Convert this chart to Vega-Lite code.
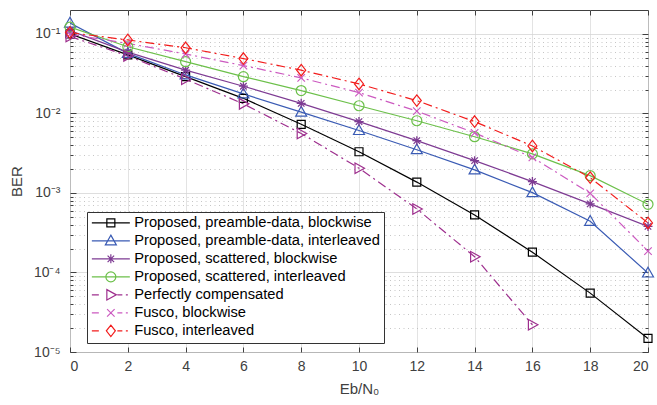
{
  "$schema": "https://vega.github.io/schema/vega-lite/v6.json",
  "width": 578,
  "height": 342,
  "autosize": {"type": "none"},
  "padding": {"left": 70, "top": 10, "right": 9, "bottom": 53},
  "config": {
    "view": {"stroke": "#404040", "strokeWidth": 1},
    "font": "Liberation Sans",
    "axis": {"labelFont": "Liberation Sans", "titleFont": "Liberation Sans", "labelFontSize": 14, "labelColor": "#404040", "titleColor": "#404040", "titleFontWeight": "normal", "tickColor": "#404040", "domain": false},
    "legend": {"labelFont": "Liberation Sans"}
  },
  "data": {"values": [
    {"s": "Proposed, preamble-data, blockwise", "x": 0, "ber": 0.1},
    {"s": "Proposed, preamble-data, blockwise", "x": 2, "ber": 0.0545},
    {"s": "Proposed, preamble-data, blockwise", "x": 4, "ber": 0.029},
    {"s": "Proposed, preamble-data, blockwise", "x": 6, "ber": 0.0155},
    {"s": "Proposed, preamble-data, blockwise", "x": 8, "ber": 0.0073},
    {"s": "Proposed, preamble-data, blockwise", "x": 10, "ber": 0.0033},
    {"s": "Proposed, preamble-data, blockwise", "x": 12, "ber": 0.00137},
    {"s": "Proposed, preamble-data, blockwise", "x": 14, "ber": 0.00053},
    {"s": "Proposed, preamble-data, blockwise", "x": 16, "ber": 0.00018},
    {"s": "Proposed, preamble-data, blockwise", "x": 18, "ber": 0.000055},
    {"s": "Proposed, preamble-data, blockwise", "x": 20, "ber": 0.0000148},
    {"s": "Proposed, preamble-data, interleaved", "x": 0, "ber": 0.137},
    {"s": "Proposed, preamble-data, interleaved", "x": 2, "ber": 0.057},
    {"s": "Proposed, preamble-data, interleaved", "x": 4, "ber": 0.0305},
    {"s": "Proposed, preamble-data, interleaved", "x": 6, "ber": 0.0176},
    {"s": "Proposed, preamble-data, interleaved", "x": 8, "ber": 0.0104},
    {"s": "Proposed, preamble-data, interleaved", "x": 10, "ber": 0.0061},
    {"s": "Proposed, preamble-data, interleaved", "x": 12, "ber": 0.0035},
    {"s": "Proposed, preamble-data, interleaved", "x": 14, "ber": 0.00195},
    {"s": "Proposed, preamble-data, interleaved", "x": 16, "ber": 0.00101},
    {"s": "Proposed, preamble-data, interleaved", "x": 18, "ber": 0.00044},
    {"s": "Proposed, preamble-data, interleaved", "x": 20, "ber": 0.0000985},
    {"s": "Proposed, scattered, blockwise", "x": 0, "ber": 0.11},
    {"s": "Proposed, scattered, blockwise", "x": 2, "ber": 0.059},
    {"s": "Proposed, scattered, blockwise", "x": 4, "ber": 0.035},
    {"s": "Proposed, scattered, blockwise", "x": 6, "ber": 0.022},
    {"s": "Proposed, scattered, blockwise", "x": 8, "ber": 0.0134},
    {"s": "Proposed, scattered, blockwise", "x": 10, "ber": 0.0079},
    {"s": "Proposed, scattered, blockwise", "x": 12, "ber": 0.00455},
    {"s": "Proposed, scattered, blockwise", "x": 14, "ber": 0.00255},
    {"s": "Proposed, scattered, blockwise", "x": 16, "ber": 0.00139},
    {"s": "Proposed, scattered, blockwise", "x": 18, "ber": 0.00073},
    {"s": "Proposed, scattered, blockwise", "x": 20, "ber": 0.00038},
    {"s": "Proposed, scattered, interleaved", "x": 0, "ber": 0.122},
    {"s": "Proposed, scattered, interleaved", "x": 2, "ber": 0.069},
    {"s": "Proposed, scattered, interleaved", "x": 4, "ber": 0.0448},
    {"s": "Proposed, scattered, interleaved", "x": 6, "ber": 0.029},
    {"s": "Proposed, scattered, interleaved", "x": 8, "ber": 0.0194},
    {"s": "Proposed, scattered, interleaved", "x": 10, "ber": 0.0125},
    {"s": "Proposed, scattered, interleaved", "x": 12, "ber": 0.0081},
    {"s": "Proposed, scattered, interleaved", "x": 14, "ber": 0.0051},
    {"s": "Proposed, scattered, interleaved", "x": 16, "ber": 0.0031},
    {"s": "Proposed, scattered, interleaved", "x": 18, "ber": 0.00165},
    {"s": "Proposed, scattered, interleaved", "x": 20, "ber": 0.00072},
    {"s": "Perfectly compensated", "x": 0, "ber": 0.093},
    {"s": "Perfectly compensated", "x": 2, "ber": 0.053},
    {"s": "Perfectly compensated", "x": 4, "ber": 0.027},
    {"s": "Perfectly compensated", "x": 6, "ber": 0.0132},
    {"s": "Perfectly compensated", "x": 8, "ber": 0.0056},
    {"s": "Perfectly compensated", "x": 10, "ber": 0.00205},
    {"s": "Perfectly compensated", "x": 12, "ber": 0.00063},
    {"s": "Perfectly compensated", "x": 14, "ber": 0.000158},
    {"s": "Perfectly compensated", "x": 16, "ber": 0.000022},
    {"s": "Fusco, blockwise", "x": 0, "ber": 0.099},
    {"s": "Fusco, blockwise", "x": 2, "ber": 0.076},
    {"s": "Fusco, blockwise", "x": 4, "ber": 0.056},
    {"s": "Fusco, blockwise", "x": 6, "ber": 0.04},
    {"s": "Fusco, blockwise", "x": 8, "ber": 0.028},
    {"s": "Fusco, blockwise", "x": 10, "ber": 0.0183},
    {"s": "Fusco, blockwise", "x": 12, "ber": 0.0107},
    {"s": "Fusco, blockwise", "x": 14, "ber": 0.0057},
    {"s": "Fusco, blockwise", "x": 16, "ber": 0.0028},
    {"s": "Fusco, blockwise", "x": 18, "ber": 0.00099},
    {"s": "Fusco, blockwise", "x": 20, "ber": 0.000186},
    {"s": "Fusco, interleaved", "x": 0, "ber": 0.104},
    {"s": "Fusco, interleaved", "x": 2, "ber": 0.084},
    {"s": "Fusco, interleaved", "x": 4, "ber": 0.067},
    {"s": "Fusco, interleaved", "x": 6, "ber": 0.049},
    {"s": "Fusco, interleaved", "x": 8, "ber": 0.035},
    {"s": "Fusco, interleaved", "x": 10, "ber": 0.0235},
    {"s": "Fusco, interleaved", "x": 12, "ber": 0.0145},
    {"s": "Fusco, interleaved", "x": 14, "ber": 0.0079},
    {"s": "Fusco, interleaved", "x": 16, "ber": 0.0039},
    {"s": "Fusco, interleaved", "x": 18, "ber": 0.00156},
    {"s": "Fusco, interleaved", "x": 20, "ber": 0.00042}
  ]},
  "layer": [
    {
      "transform": [{"filter": "indexof(datum.s, 'Proposed') == 0"}],
      "mark": {"type": "line", "strokeWidth": 1.2, "clip": true},
      "encoding": {
        "x": {"field": "x", "type": "quantitative", "scale": {"domain": [0, 20], "nice": false, "zero": false},
          "axis": {"orient": "bottom", "values": [0, 2, 4, 6, 8, 10, 12, 14, 16, 18, 20], "grid": true, "gridColor": "#dcdcdc", "gridWidth": 0.8, "tickSize": -5, "labelPadding": 12, "title": "Eb/N₀", "titleFontSize": 15, "titleBaseline": "alphabetic", "titleY": 41}},
        "y": {"field": "ber", "type": "quantitative", "scale": {"type": "log", "domain": [0.00001, 0.2], "nice": false},
          "axis": {"orient": "left",
            "values": [0.00001, 0.00002, 0.00003, 0.00004, 0.00005, 0.00006, 0.00007, 0.00008, 0.00009, 0.0001, 0.0002, 0.0003, 0.0004, 0.0005, 0.0006, 0.0007, 0.0008, 0.0009, 0.001, 0.002, 0.003, 0.004, 0.005, 0.006, 0.007, 0.008, 0.009, 0.01, 0.02, 0.03, 0.04, 0.05, 0.06, 0.07, 0.08, 0.09, 0.1],
            "labelExpr": "abs(log(datum.value)/LN10 - round(log(datum.value)/LN10)) < 0.01 ? '10' + ['⁻⁵','⁻⁴','⁻³','⁻²','⁻¹'][round(log(datum.value)/LN10)+5] : ''",
            "labelOverlap": false,
            "grid": true,
            "gridColor": {"condition": {"test": "abs(log(datum.value)/LN10 - round(log(datum.value)/LN10)) < 0.01", "value": "#d6d6d6"}, "value": "#b8b8b8"},
            "gridDash": {"condition": {"test": "abs(log(datum.value)/LN10 - round(log(datum.value)/LN10)) < 0.01", "value": []}, "value": [1, 3.5]},
            "gridWidth": 0.8,
            "tickSize": {"condition": {"test": "abs(log(datum.value)/LN10 - round(log(datum.value)/LN10)) < 0.01", "value": -6}, "value": -3},
            "labelPadding": 16,
            "title": "BER", "titleFontSize": 15, "titleX": -54, "titleBaseline": "middle"}},
        "color": {"field": "s", "type": "nominal",
          "scale": {"domain": ["Proposed, preamble-data, blockwise", "Proposed, preamble-data, interleaved", "Proposed, scattered, blockwise", "Proposed, scattered, interleaved", "Perfectly compensated", "Fusco, blockwise", "Fusco, interleaved"],
            "range": ["#000000", "#3A5BB4", "#7E3B93", "#6CC04A", "#9E2F8E", "#CC5AC0", "#F21C1C"]}}
      }
    },
    {
      "transform": [{"filter": "indexof(datum.s, 'Proposed') != 0"}],
      "mark": {"type": "line", "strokeWidth": 1.2, "clip": true, "strokeDash": [9, 4, 2, 4]},
      "encoding": {
        "x": {"field": "x", "type": "quantitative", "axis": null},
        "y": {"field": "ber", "type": "quantitative", "axis": null},
        "color": {"field": "s", "type": "nominal"}
      }
    },
    {
      "transform": [{"filter": "datum.s == 'Proposed, preamble-data, blockwise'"}],
      "mark": {"type": "point", "shape": "M-0.8,-0.8H0.8V0.8H-0.8Z", "size": 100, "filled": false, "strokeWidth": 1.2, "opacity": 1},
      "encoding": {
        "x": {"field": "x", "type": "quantitative",
          "axis": {"orient": "top", "values": [0, 2, 4, 6, 8, 10, 12, 14, 16, 18, 20], "labels": false, "grid": false, "tickSize": -5, "title": null}},
        "y": {"field": "ber", "type": "quantitative",
          "axis": {"orient": "right",
            "values": [0.00001, 0.00002, 0.00003, 0.00004, 0.00005, 0.00006, 0.00007, 0.00008, 0.00009, 0.0001, 0.0002, 0.0003, 0.0004, 0.0005, 0.0006, 0.0007, 0.0008, 0.0009, 0.001, 0.002, 0.003, 0.004, 0.005, 0.006, 0.007, 0.008, 0.009, 0.01, 0.02, 0.03, 0.04, 0.05, 0.06, 0.07, 0.08, 0.09, 0.1],
            "labels": false, "grid": false,
            "tickSize": {"condition": {"test": "abs(log(datum.value)/LN10 - round(log(datum.value)/LN10)) < 0.01", "value": -6}, "value": -3},
            "title": null}},
        "color": {"field": "s", "type": "nominal"}
      }
    },
    {
      "transform": [{"filter": "datum.s == 'Proposed, preamble-data, interleaved'"}],
      "mark": {"type": "point", "shape": "M0,-1.15L1.1,0.8H-1.1Z", "size": 100, "filled": false, "strokeWidth": 1.2, "opacity": 1},
      "encoding": {
        "x": {"field": "x", "type": "quantitative", "axis": null},
        "y": {"field": "ber", "type": "quantitative", "axis": null},
        "color": {"field": "s", "type": "nominal"}
      }
    },
    {
      "transform": [{"filter": "datum.s == 'Proposed, scattered, blockwise'"}],
      "mark": {"type": "point", "shape": "M-0.9,0H0.9M0,-0.9V0.9M-0.65,-0.65L0.65,0.65M-0.65,0.65L0.65,-0.65", "size": 100, "filled": false, "strokeWidth": 1.3, "opacity": 1},
      "encoding": {
        "x": {"field": "x", "type": "quantitative", "axis": null},
        "y": {"field": "ber", "type": "quantitative", "axis": null},
        "color": {"field": "s", "type": "nominal"}
      }
    },
    {
      "transform": [{"filter": "datum.s == 'Proposed, scattered, interleaved'"}],
      "mark": {"type": "point", "shape": "M-1,0A1,1,0,1,0,1,0A1,1,0,1,0,-1,0Z", "size": 100, "filled": false, "strokeWidth": 1.2, "opacity": 1},
      "encoding": {
        "x": {"field": "x", "type": "quantitative", "axis": null},
        "y": {"field": "ber", "type": "quantitative", "axis": null},
        "color": {"field": "s", "type": "nominal"}
      }
    },
    {
      "transform": [{"filter": "datum.s == 'Perfectly compensated'"}],
      "mark": {"type": "point", "shape": "M-0.8,-1.05L1.1,0L-0.8,1.05Z", "size": 100, "filled": false, "strokeWidth": 1.2, "opacity": 1},
      "encoding": {
        "x": {"field": "x", "type": "quantitative", "axis": null},
        "y": {"field": "ber", "type": "quantitative", "axis": null},
        "color": {"field": "s", "type": "nominal"}
      }
    },
    {
      "transform": [{"filter": "datum.s == 'Fusco, blockwise'"}],
      "mark": {"type": "point", "shape": "M-0.75,-0.75L0.75,0.75M-0.75,0.75L0.75,-0.75", "size": 100, "filled": false, "strokeWidth": 1.2, "opacity": 1},
      "encoding": {
        "x": {"field": "x", "type": "quantitative", "axis": null},
        "y": {"field": "ber", "type": "quantitative", "axis": null},
        "color": {"field": "s", "type": "nominal"}
      }
    },
    {
      "transform": [{"filter": "datum.s == 'Fusco, interleaved'"}],
      "mark": {"type": "point", "shape": "M0,-1.15L0.9,0L0,1.15L-0.9,0Z", "size": 100, "filled": false, "strokeWidth": 1.2, "opacity": 1},
      "encoding": {
        "x": {"field": "x", "type": "quantitative", "axis": null},
        "y": {"field": "ber", "type": "quantitative", "axis": null},
        "color": {"field": "s", "type": "nominal"}
      }
    },
    {
      "transform": [{"filter": "datum.x > 100"}],
      "mark": {"type": "point", "filled": false, "strokeWidth": 1.2, "opacity": 1},
      "encoding": {
        "x": {"field": "x", "type": "quantitative", "axis": null},
        "y": {"field": "ber", "type": "quantitative", "axis": null},
        "color": {"field": "s", "type": "nominal",
          "legend": {"title": null, "orient": "none", "legendX": 17, "legendY": 202, "symbolSize": 100, "symbolOffset": 13, "symbolStrokeWidth": 1.2, "symbolOpacity": 1, "labelFontSize": 14.7, "labelColor": "#000000", "labelLimit": 400, "labelOffset": 16, "strokeColor": "#333333", "fillColor": "#ffffff", "padding": 3.5, "rowPadding": 2}},
        "shape": {"field": "s", "type": "nominal",
          "legend": {"title": null, "orient": "none", "legendX": 17, "legendY": 202, "symbolSize": 100, "symbolOffset": 13, "symbolStrokeWidth": 1.2, "symbolOpacity": 1, "labelFontSize": 14.7, "labelColor": "#000000", "labelLimit": 400, "labelOffset": 16, "strokeColor": "#333333", "fillColor": "#ffffff", "padding": 3.5, "rowPadding": 2},
          "scale": {"domain": ["Proposed, preamble-data, blockwise", "Proposed, preamble-data, interleaved", "Proposed, scattered, blockwise", "Proposed, scattered, interleaved", "Perfectly compensated", "Fusco, blockwise", "Fusco, interleaved"],
            "range": [
              "M-3.8,0H3.8M-0.8,-0.8H0.8V0.8H-0.8Z",
              "M-3.8,0H3.8M0,-1.15L1.1,0.8H-1.1Z",
              "M-3.8,0H3.8M0,-0.9V0.9M-0.65,-0.65L0.65,0.65M-0.65,0.65L0.65,-0.65",
              "M-3.8,0H3.8M-1,0A1,1,0,1,0,1,0A1,1,0,1,0,-1,0Z",
              "M-3.8,0H-2.4M1.3,0H2.3M3.0,0H3.4M-0.8,-1.05L1.1,0L-0.8,1.05Z",
              "M-3.8,0H-2.4M1.3,0H2.3M3.0,0H3.4M-0.75,-0.75L0.75,0.75M-0.75,0.75L0.75,-0.75",
              "M-3.8,0H-2.4M1.3,0H2.3M3.0,0H3.4M0,-1.15L0.9,0L0,1.15L-0.9,0Z"
            ]}}
      }
    }
  ],
  "resolve": {"axis": {"x": "independent", "y": "independent"}}
}
